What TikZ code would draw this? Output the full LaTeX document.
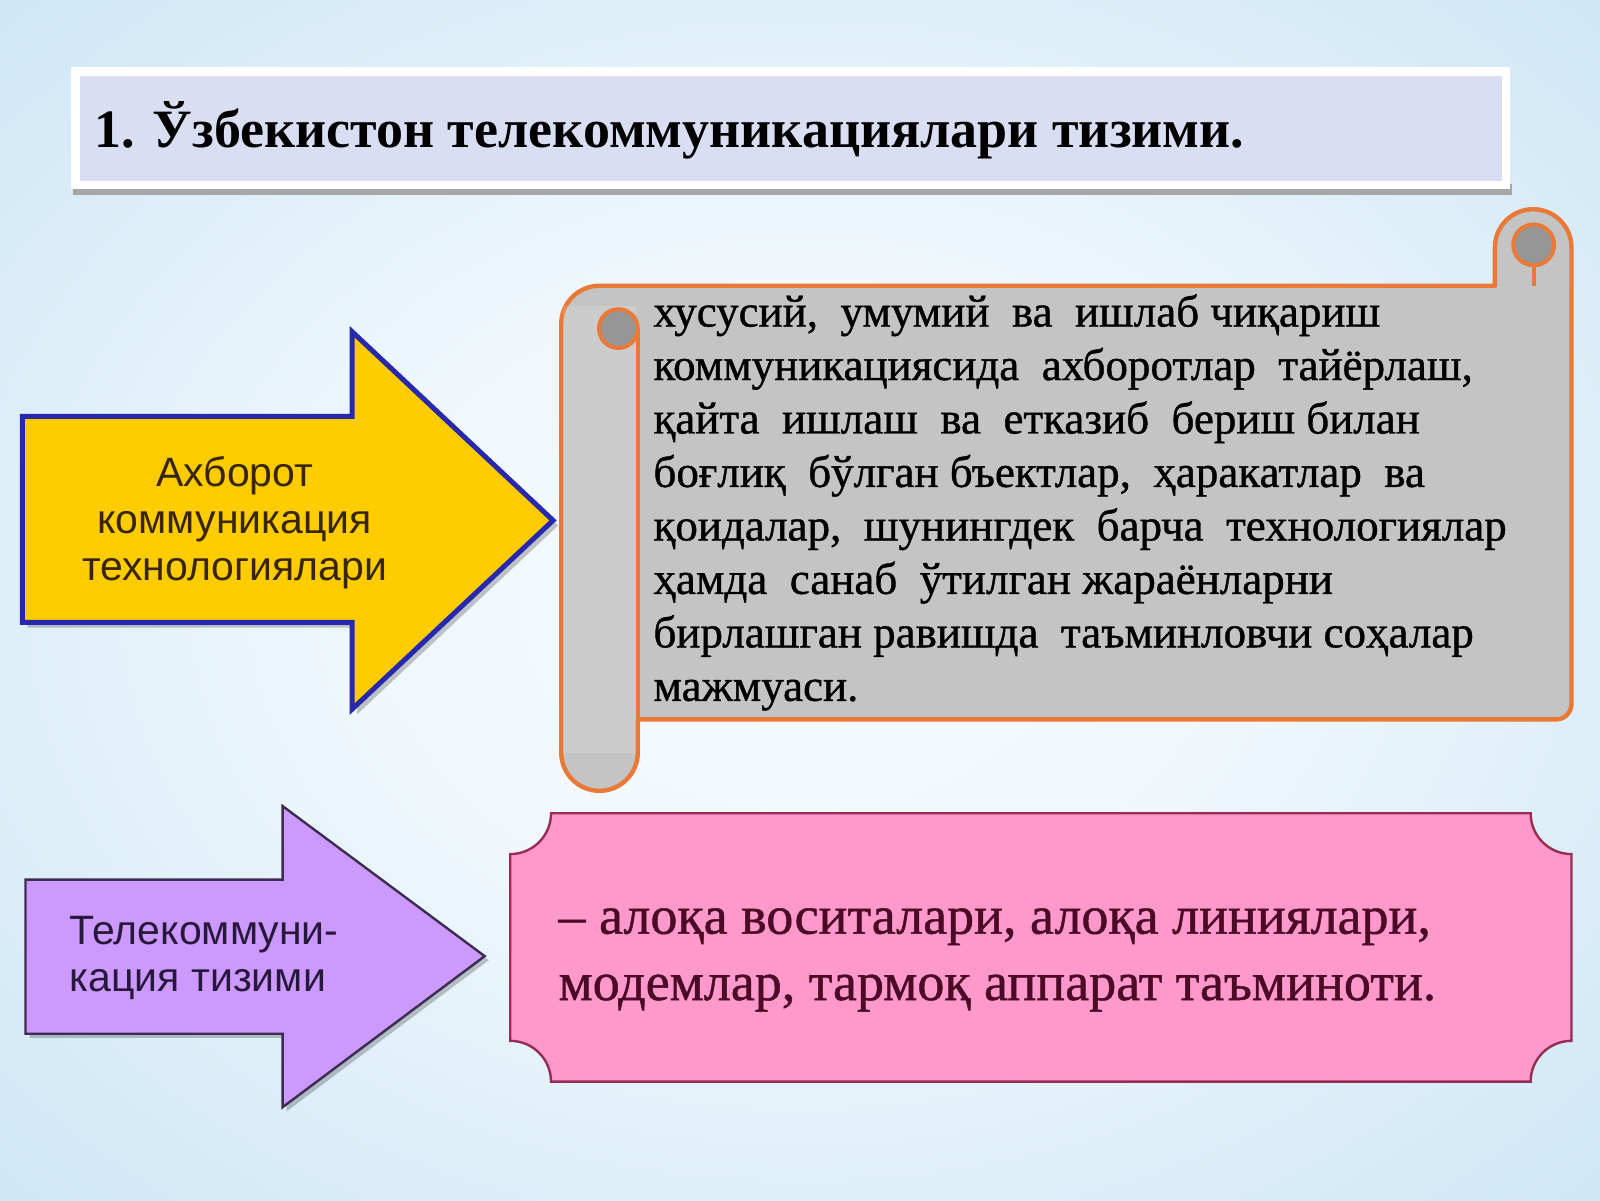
\documentclass[tikz,border=0pt]{standalone}
\usepackage{fontspec}
\setmainfont{Liberation Serif}
\setsansfont{Liberation Sans}
\newfontfamily\heavyserif[FakeBold=0.9]{Liberation Serif}
\pgfdeclareradialshading{bgsh}{\pgfpoint{0bp}{0bp}}{rgb(0bp)=(0.97,0.985,0.995); rgb(14bp)=(0.94,0.97,0.99); rgb(30bp)=(0.84,0.92,0.97); rgb(50bp)=(0.74,0.87,0.955); rgb(72bp)=(0.64,0.83,0.95)}
\definecolor{yfill}{RGB}{255,204,0}
\definecolor{yline}{RGB}{40,40,175}
\definecolor{pfill}{RGB}{204,153,255}
\definecolor{pline}{RGB}{60,45,80}
\definecolor{sfill}{RGB}{196,196,196}
\definecolor{sline}{RGB}{232,121,55}
\definecolor{sdark}{RGB}{150,150,150}
\definecolor{kfill}{RGB}{255,153,204}
\definecolor{kline}{RGB}{150,45,85}
\definecolor{ktext}{RGB}{75,10,38}
\definecolor{hfill}{RGB}{218,222,243}
\definecolor{ytext}{RGB}{55,38,0}
\definecolor{ptext}{RGB}{40,25,60}
\begin{document}
\begin{tikzpicture}[x=0.5102pt,y=-0.5102pt,
  hdr/.style={font=\fontsize{27}{30}\selectfont\bfseries, inner sep=0pt, anchor=base west},
  scrolltxt/.style={font=\heavyserif\fontsize{22.5}{26}\selectfont, inner sep=0pt, anchor=base west},
  ytxt/.style={font=\sffamily\fontsize{20.5}{24}\selectfont, text=ytext, inner sep=0pt, anchor=base},
  ptxt/.style={font=\sffamily\fontsize{20.5}{24}\selectfont, text=ptext, inner sep=0pt, anchor=base west},
  ktxt/.style={font=\heavyserif\fontsize{27}{30}\selectfont, text=ktext, inner sep=0pt, anchor=base west},
  shadowfill/.style={fill=black, opacity=0.22}]
\useasboundingbox (0,0) rectangle (1568,1176);
\shade[shading=bgsh] (0,0) rectangle (1568,1176);

% header
\fill[gray!70] (72,180) rectangle (1482,191);
\fill[white] (70,66) rectangle (1480,185);
\fill[hfill] (78,74) rectangle (1472,177);
\node[hdr] (title) at (92,145) {1. Ўзбекистон телекоммуникациялари тизими.};

% yellow arrow
\fill[shadowfill] (27,413) -- (350,413) -- (350,330) -- (547,515) -- (350,700) -- (350,615) -- (27,615) -- cycle;
\draw[yline, line width=2.5pt, line join=miter, fill=yfill] (22,408) -- (345,408) -- (345,325) -- (542,510) -- (345,695) -- (345,610) -- (22,610) -- cycle;
\foreach \t [count=\i] in {Ахборот,коммуникация,технологиялари}
  \node[ytxt] (ya\i) at (230,{477+46*(\i-1)}) {\t};

% purple arrow
\fill[shadowfill] (29,866) -- (281,866) -- (281,794) -- (479,941) -- (281,1089) -- (281,1017) -- (29,1017) -- cycle;
\draw[pline, line width=1.2pt, fill=pfill] (25,862) -- (277,862) -- (277,790) -- (475,937) -- (277,1085) -- (277,1013) -- (25,1013) -- cycle;
\node[ptxt] (pa1) at (68,926) {Телекоммуни-};
\node[ptxt] (pa2) at (68,972) {кация тизими};

% scroll
\draw[sline, line width=2.2pt, fill=sfill, line join=round]
  (587.5,280) -- (1465,280) -- (1465,242.5) arc[start angle=180,end angle=360,radius=37.5]
  -- (1540,690) arc[start angle=0,end angle=90,radius=15]
  -- (625,705) -- (625,737.5) arc[start angle=0,end angle=180,radius=37.5]
  -- (550,317.5) arc[start angle=180,end angle=270,radius=37.5] -- cycle;
\fill[white, opacity=0.15] (552,300) rectangle (623,738);
\draw[sline, line width=2.2pt] (625,322) -- (625,737.5);
\draw[sline, line width=2pt, fill=sdark] (606,322) circle[radius=19];
\draw[sline, line width=2pt, fill=sdark] (1503,240) circle[radius=20];
\draw[sline, line width=2.2pt] (1503,260) -- (1503,280);
\foreach \t [count=\i] in {{хусусий, \ умумий \ ва \ ишлаб чиқариш},
  {коммуникациясида \ ахборотлар \ тайёрлаш,},
  {қайта \ ишлаш \ ва \ етказиб \ бериш билан},
  {боғлиқ \ бўлган бъектлар, \ ҳаракатлар \ ва},
  {қоидалар, \ шунингдек \ барча \ технологиялар},
  {ҳамда \ санаб \ ўтилган жараёнларни},
  {бирлашган равишда \ таъминловчи соҳалар},
  {мажмуаси.}}
  \node[scrolltxt] (s\i) at (640,{320+52.4*(\i-1)}) {\t};

% pink plaque
\draw[kline, line width=1.2pt, fill=kfill]
  (540,797) -- (1500,797) arc[start angle=180,end angle=90,radius=40]
  -- (1540,1020) arc[start angle=270,end angle=180,radius=40]
  -- (540,1060) arc[start angle=360,end angle=270,radius=40]
  -- (500,837) arc[start angle=90,end angle=0,radius=40] -- cycle;
\node[ktxt] (k1) at (547,915) {– алоқа воситалари, алоқа линиялари,};
\node[ktxt] (k2) at (547,980) {модемлар, тармоқ аппарат таъминоти.};
\end{tikzpicture}
\end{document}
